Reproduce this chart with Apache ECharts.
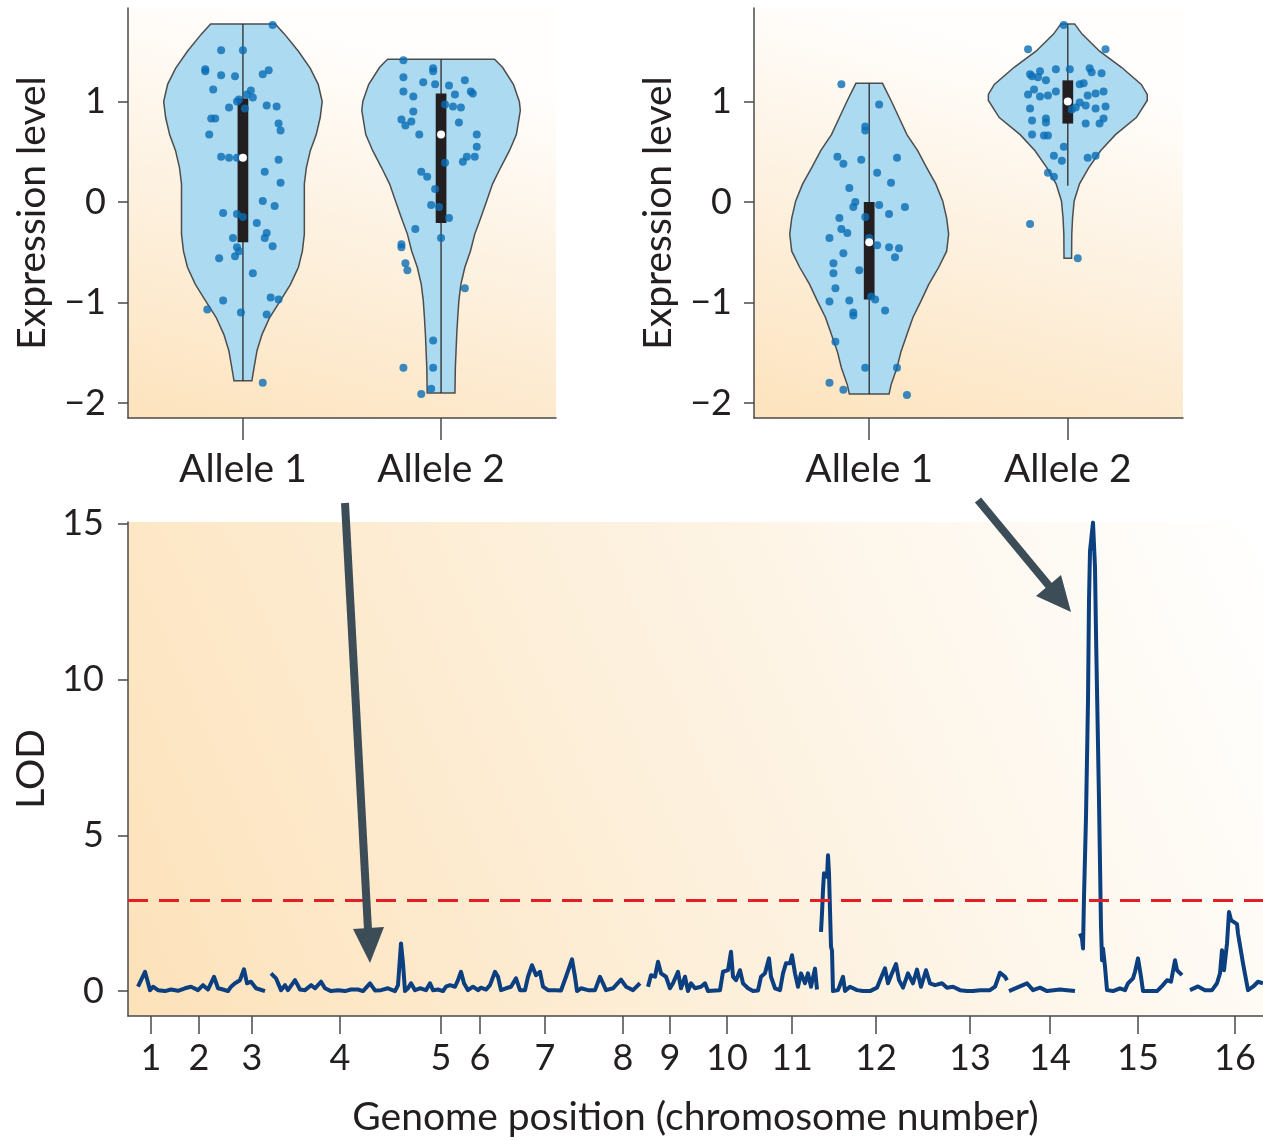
<!DOCTYPE html>
<html>
<head>
<meta charset="utf-8">
<script src="https://cdn.jsdelivr.net/npm/echarts@6/dist/echarts.min.js"></script>
<style>
html, body { margin: 0; padding: 0; background: #fff; }
#main { width: 1263px; height: 1141px; }
</style>
</head>
<body>
<div id="main"></div>
<script>
// ---------------- data ----------------
var alleleNames = ["Allele 1", "Allele 2"];
var exprTicks = [-2, -1, 0, 1];
var lodTicks = [0, 5, 10, 15];
var lodThreshold = 2.93;

// violin outlines: y level and half width (x units)
var leftA1Levels = [1.77, 1.67, 1.50, 1.33, 1.17, 1.00, 0.84, 0.67, 0.51, 0.34, 0.18, 0.01, -0.16, -0.32, -0.49, -0.65, -0.82, -0.98, -1.15, -1.32, -1.48, -1.65, -1.78];
var leftA1Half = [0.163, 0.21, 0.28, 0.34, 0.38, 0.40, 0.39, 0.37, 0.34, 0.32, 0.31, 0.31, 0.31, 0.31, 0.30, 0.28, 0.24, 0.19, 0.135, 0.096, 0.071, 0.056, 0.045];
var leftA2Levels = [1.42, 1.34, 1.17, 1.00, 0.91, 0.67, 0.51, 0.34, 0.18, 0.01, -0.16, -0.32, -0.49, -0.65, -0.82, -0.98, -1.15, -1.32, -1.65, -1.90];
var leftA2Half = [0.27, 0.31, 0.365, 0.395, 0.40, 0.38, 0.345, 0.30, 0.26, 0.23, 0.20, 0.17, 0.148, 0.12, 0.10, 0.09, 0.084, 0.079, 0.072, 0.07];
var rightA1Levels = [1.18, 1.01, 0.84, 0.67, 0.51, 0.34, 0.18, 0.01, -0.16, -0.32, -0.49, -0.65, -0.82, -0.99, -1.15, -1.32, -1.49, -1.65, -1.82, -1.91];
var rightA1Half = [0.067, 0.11, 0.15, 0.19, 0.244, 0.29, 0.335, 0.37, 0.39, 0.40, 0.39, 0.35, 0.30, 0.26, 0.22, 0.19, 0.16, 0.14, 0.11, 0.10];
var rightA2Levels = [1.77, 1.67, 1.50, 1.34, 1.17, 1.07, 1.01, 0.84, 0.67, 0.51, 0.34, 0.18, 0.01, -0.16, -0.32, -0.56];
var rightA2Half = [0.035, 0.072, 0.16, 0.27, 0.37, 0.40, 0.40, 0.345, 0.24, 0.165, 0.105, 0.059, 0.032, 0.024, 0.02, 0.019];

// box: [q1, q3, whisker low, whisker high]
var leftBoxes = [[-0.40, 1.03, -1.78, 1.77], [-0.21, 1.08, -1.90, 1.42]];
var rightBoxes = [[-0.97, 0.00, -1.91, 1.18], [0.78, 1.21, 0.16, 1.77]];
var leftMedians = [[1, 0.44], [2, 0.67]];
var rightMedians = [[1, -0.40], [2, 1.00]];

// jittered expression points
var leftPoints = [
  [1.15, 1.76], [0.89, 1.51], [1.00, 1.51], [0.81, 1.32], [0.81, 1.30], [0.89, 1.26], [0.96, 1.25], [1.10, 1.27],
  [1.13, 1.31], [0.85, 1.12], [1.04, 1.11], [1.02, 1.07], [1.05, 1.04], [0.97, 1.00], [0.98, 1.02], [0.93, 0.94],
  [1.01, 0.93], [1.12, 0.96], [1.17, 0.95], [0.84, 0.83], [0.86, 0.83], [1.18, 0.78], [1.19, 0.71], [0.83, 0.67],
  [0.89, 0.45], [0.93, 0.44], [0.97, 0.44], [1.18, 0.42], [1.11, 0.30], [1.19, 0.19], [1.10, 0.01], [1.16, -0.04],
  [0.90, -0.11], [0.97, -0.12], [1.00, -0.15], [1.07, -0.21], [1.12, -0.31], [1.11, -0.36], [0.95, -0.36], [1.15, -0.44],
  [0.97, -0.45], [0.98, -0.49], [0.96, -0.54], [0.88, -0.56], [1.05, -0.71], [0.90, -0.98], [1.14, -0.95], [1.18, -0.97],
  [0.82, -1.07], [0.99, -1.10], [1.12, -1.12], [1.10, -1.80],
  [1.81, 1.41], [1.96, 1.33], [1.96, 1.30], [1.81, 1.24], [1.91, 1.19], [1.97, 1.17], [2.04, 1.16], [2.12, 1.21],
  [1.81, 1.10], [1.86, 1.05], [2.07, 1.07], [2.15, 1.10], [2.16, 1.08], [2.02, 0.97], [2.06, 0.95], [2.10, 0.94],
  [1.86, 0.90], [1.80, 0.82], [1.85, 0.80], [1.82, 0.76], [2.09, 0.79], [1.89, 0.67], [2.18, 0.67], [2.18, 0.55],
  [2.13, 0.45], [2.17, 0.45], [2.11, 0.40], [2.02, 0.39], [1.90, 0.30], [1.93, 0.25], [1.97, 0.13], [1.95, -0.03],
  [1.99, -0.05], [2.04, -0.16], [1.87, -0.27], [2.00, -0.36], [1.80, -0.42], [1.80, -0.45], [1.82, -0.61], [1.83, -0.68],
  [2.12, -0.86], [1.96, -1.38], [1.81, -1.65], [1.96, -1.65], [1.95, -1.86], [1.90, -1.91]
];
var rightPoints = [
  [0.86, 1.17], [1.05, 0.97], [0.98, 0.75], [0.98, 0.71], [0.84, 0.45], [0.87, 0.38], [0.96, 0.42], [1.14, 0.44],
  [1.04, 0.29], [0.90, 0.14], [1.11, 0.19], [0.93, 0.00], [0.92, -0.05], [1.05, -0.03], [1.18, -0.05], [0.85, -0.16],
  [0.86, -0.27], [0.89, -0.31], [0.98, -0.15], [1.10, -0.12], [0.80, -0.36], [1.00, -0.36], [0.87, -0.51], [1.04, -0.43],
  [1.10, -0.45], [1.15, -0.46], [1.13, -0.55], [0.82, -0.61], [0.82, -0.71], [0.95, -0.68], [0.83, -0.86], [0.80, -0.99],
  [0.90, -0.98], [0.92, -1.10], [0.92, -1.13], [1.01, -0.94], [1.03, -0.97], [1.08, -1.08], [0.83, -1.39], [0.98, -1.65],
  [1.14, -1.65], [0.80, -1.80], [0.87, -1.87], [1.19, -1.92],
  [1.98, 1.76], [1.80, 1.52], [2.19, 1.52], [1.81, 1.27], [1.86, 1.30], [1.94, 1.32], [2.01, 1.32], [2.11, 1.33],
  [2.17, 1.28], [1.82, 1.25], [1.89, 1.21], [1.85, 1.24], [2.06, 1.17], [2.08, 1.18], [2.12, 1.29], [1.80, 1.07],
  [1.83, 1.12], [1.86, 1.05], [1.90, 1.06], [1.94, 1.10], [2.14, 1.08], [2.18, 1.10], [2.10, 1.06], [1.81, 0.93],
  [2.04, 0.94], [2.06, 0.99], [2.09, 0.96], [2.14, 0.93], [2.19, 0.95], [1.82, 0.81], [1.89, 0.83], [1.89, 0.79],
  [2.02, 0.92], [2.09, 0.78], [2.16, 0.78], [2.18, 0.83], [1.82, 0.67], [1.88, 0.66], [1.90, 0.66], [1.98, 0.55],
  [1.93, 0.46], [1.97, 0.41], [2.10, 0.44], [2.14, 0.46], [1.90, 0.29], [1.93, 0.25], [1.81, -0.22], [2.05, -0.56]
];

// LOD scan: genome position (arbitrary units) and LOD score, null = gap between chromosomes
var chromPos = [23, 71, 124, 212, 313, 352, 417, 495, 542, 599, 664, 748, 842, 922, 1010, 1107];
var chromLabels = ["1", "2", "3", "4", "5", "6", "7", "8", "9", "10", "11", "12", "13", "14", "15", "16"];
var lodPos = [
  10, 17, 22, 25, 30, 37, 43, 50, 57, 63, 70, 75, 80, 86, 90, 95, 100, 103, 107, 112, 116, 119, 123, 128, 137,
  140,
  143, 148, 153, 157, 160, 167, 172, 177, 183, 187, 193, 197, 203, 210, 217, 223, 230,
  235, 242, 247, 253, 260, 267, 270, 273, 275, 277, 280, 283, 287, 292, 298, 302, 305, 310, 315, 318, 322, 327,
  330, 333, 336, 340, 345, 350, 353, 358, 362, 367, 370, 373, 378, 383, 388, 392, 397, 400, 404, 408, 412, 415,
  420, 427, 433, 438, 444, 447, 449, 453, 460,
  467, 472, 475, 478, 485, 493, 498, 505, 512,
  516,
  520, 523, 527, 530, 533, 538, 542, 545, 550, 553, 557, 560, 563, 567, 573, 577, 580, 587, 592, 595, 600, 603,
  605, 608, 612, 615, 620, 625, 630, 633, 637, 641, 643, 647, 652, 655, 658, 662, 664, 667, 670, 673, 677, 680,
  683, 687, 689,
  691,
  693, 694, 695, 696, 699, 700, 701, 703, 704, 705, 710, 715, 717, 722, 729, 735, 742, 749, 752, 757, 760, 764,
  768, 771, 775, 780, 785, 789, 793, 798, 802, 807, 814, 819, 825, 832, 839, 845, 852, 862, 867, 872, 877, 879,
  880,
  881, 889, 899, 905, 912, 919, 932, 939, 947,
  950,
  952, 954, 955, 956, 958, 960, 961, 962, 965, 967, 968, 971, 973, 974, 975, 977, 979, 985, 992, 997, 1000, 1005,
  1007, 1010, 1013, 1015, 1022, 1029, 1034, 1039, 1043, 1047, 1049, 1054,
  1058,
  1062, 1070, 1077, 1084, 1089, 1092, 1094, 1096, 1099, 1101, 1103, 1105, 1109, 1110, 1115, 1120, 1125, 1130, 1135
];
var lodVal = [
  0.14, 0.62, 0.03, 0.14, 0.03, 0.00, 0.05, 0.01, 0.09, 0.14, 0.03, 0.19, 0.05, 0.46, 0.09, 0.05, 0.00, 0.14, 0.25, 0.35, 0.70, 0.25, 0.30, 0.09, 0.00,
  null,
  0.57, 0.41, 0.03, 0.19, 0.03, 0.35, 0.05, 0.03, 0.19, 0.09, 0.30, 0.09, 0.00, 0.03, 0.00, 0.05, 0.05,
  0.00, 0.25, 0.02, 0.03, 0.09, 0.00, 0.19, 1.53, 0.89, 0.00, 0.09, 0.25, 0.03, 0.09, 0.03, 0.25, 0.03, 0.05, 0.00, 0.14, 0.19, 0.14,
  0.35, 0.62, 0.25, 0.03, 0.14, 0.03, 0.11, 0.05, 0.19, 0.62, 0.46, 0.03, 0.09, 0.14, 0.41, 0.03, 0.03, 0.46, 0.83, 0.51, 0.62, 0.14,
  0.03, 0.03, 0.02, 0.46, 1.02, 0.46, 0.00, 0.09, 0.03,
  0.03, 0.46, 0.25, 0.03, 0.09, 0.37, 0.14, 0.03, 0.25,
  null,
  0.14, 0.51, 0.46, 0.94, 0.57, 0.46, 0.09, 0.25, 0.62, 0.09, 0.46, 0.00, 0.25, 0.09, 0.14, 0.25, 0.00, 0.02, 0.03, 0.62, 0.67, 1.26,
  0.46, 0.35, 0.67, 0.25, 0.09, 0.00, 0.02, 0.46, 0.57, 1.05, 0.46, 0.09, 0.03, 0.57, 0.89, 0.89, 1.15, 0.57, 0.14, 0.57, 0.25, 0.57,
  0.14, 0.72, 0.05,
  null,
  1.90, 2.50, 3.24, 3.78, 3.67, 4.36, 3.78, 1.42, 1.30, 0.00, 0.03, 0.46, 0.00, 0.14, 0.03, 0.00, 0.00, 0.11, 0.35, 0.73, 0.25, 0.57,
  0.87, 0.35, 0.11, 0.57, 0.25, 0.69, 0.14, 0.67, 0.25, 0.19, 0.25, 0.11, 0.14, 0.03, 0.00, 0.00, 0.03, 0.03, 0.14, 0.59, 0.46, 0.35,
  null,
  0.00, 0.11, 0.25, 0.03, 0.11, 0.00, 0.05, 0.03, 0.00,
  null,
  1.85, 1.69, 1.37, 3.02, 5.59, 9.33, 12.53, 14.13, 15.04, 13.60, 11.47, 6.12, 2.06, 0.99, 1.37, 0.78, 0.03, 0.00, 0.09, 0.03, 0.25, 0.41,
  0.62, 1.05, 0.46, 0.00, 0.00, 0.00, 0.16, 0.35, 0.30, 0.99, 0.67, 0.51,
  null,
  0.03, 0.15, 0.03, 0.03, 0.25, 0.57, 1.31, 0.67, 1.53, 2.54, 2.28, 2.22, 2.15, 1.85, 0.89, 0.03, 0.14, 0.30, 0.25
];

// ---------------- styles ----------------
var FONT = "Lato";
var TXT = "#231f20";
var AXIS = "#4a4a4a";

function minusFmt(v) {
  return v < 0 ? "\u2212" + Math.abs(v) : String(v);
}

function panelBg() {
  return {
    type: "linear", x: 0, y: 1, x2: 0.25, y2: 0,
    colorStops: [
      { offset: 0, color: "#fde3bd" },
      { offset: 0.5, color: "#fdf0dd" },
      { offset: 1, color: "#fffefd" }
    ]
  };
}

function exprYAxis(gridIndex) {
  return {
    type: "value", gridIndex: gridIndex, min: -2.15, max: 1.93,
    name: "Expression level", nameLocation: "middle", nameGap: 76,
    nameTextStyle: { fontFamily: FONT, fontSize: 39, color: TXT },
    axisLine: { show: true, lineStyle: { color: AXIS, width: 1.5 } },
    axisTick: { show: true, length: 10, customValues: exprTicks, lineStyle: { color: AXIS, width: 1.5 } },
    axisLabel: { customValues: exprTicks, formatter: minusFmt, fontFamily: FONT, fontSize: 36, color: TXT, margin: 22 },
    splitLine: { show: false }
  };
}

function alleleXAxis(gridIndex) {
  return {
    type: "value", gridIndex: gridIndex, min: 0.42, max: 2.58,
    axisLine: { show: true, onZero: false, lineStyle: { color: AXIS, width: 1.5 } },
    axisTick: { show: true, length: 22, customValues: [1, 2], lineStyle: { color: AXIS, width: 1.5 } },
    axisLabel: {
      customValues: [1, 2], formatter: function (v) { return alleleNames[v - 1]; },
      fontFamily: FONT, fontSize: 39, color: TXT, margin: 32
    },
    splitLine: { show: false }
  };
}

function violinRender(shapes) {
  return function (params, api) {
    var s = shapes[params.dataIndex];
    var c = api.value(0);
    var pts = [];
    for (var i = 0; i < s.levels.length; i++) pts.push(api.coord([c + s.half[i], s.levels[i]]));
    for (var j = s.levels.length - 1; j >= 0; j--) pts.push(api.coord([c - s.half[j], s.levels[j]]));
    var wTop = api.coord([c, s.box[3]]);
    var wBot = api.coord([c, s.box[2]]);
    var bTL = api.coord([c - 0.027, s.box[1]]);
    var bBR = api.coord([c + 0.027, s.box[0]]);
    return {
      type: "group",
      children: [
        { type: "polygon", shape: { points: pts }, style: { fill: "#acdaf0", stroke: "#4d4d4d", lineWidth: 1.5 } },
        { type: "line", shape: { x1: wTop[0], y1: wTop[1], x2: wBot[0], y2: wBot[1] }, style: { stroke: "#2b2b2b", lineWidth: 1.3 } },
        { type: "rect", shape: { x: bTL[0], y: bTL[1], width: bBR[0] - bTL[0], height: bBR[1] - bTL[1] }, style: { fill: "#231f20" } }
      ]
    };
  };
}

var leftShapes = [
  { levels: leftA1Levels, half: leftA1Half, box: leftBoxes[0] },
  { levels: leftA2Levels, half: leftA2Half, box: leftBoxes[1] }
];
var rightShapes = [
  { levels: rightA1Levels, half: rightA1Half, box: rightBoxes[0] },
  { levels: rightA2Levels, half: rightA2Half, box: rightBoxes[1] }
];

var lodData = lodPos.map(function (p, i) {
  return [p, lodVal[i] === null ? "-" : lodVal[i]];
});

var option = {
  animation: false,
  backgroundColor: "#ffffff",
  grid: [
    { left: 128, top: 8, width: 428, height: 410, show: true, borderWidth: 0, backgroundColor: panelBg() },
    { left: 754, top: 8, width: 429, height: 410, show: true, borderWidth: 0, backgroundColor: panelBg() },
    {
      left: 128, top: 522, width: 1135, height: 494, show: true, borderWidth: 0,
      backgroundColor: {
        type: "linear", x: 0, y: 1, x2: 1, y2: 0,
        colorStops: [
          { offset: 0, color: "#fde2ba" },
          { offset: 0.5, color: "#fdf1de" },
          { offset: 1, color: "#ffffff" }
        ]
      }
    }
  ],
  xAxis: [
    alleleXAxis(0),
    alleleXAxis(1),
    {
      type: "value", gridIndex: 2, min: 0, max: 1135,
      name: "Genome position (chromosome number)", nameLocation: "middle", nameGap: 82,
      nameTextStyle: { fontFamily: FONT, fontSize: 39, color: TXT },
      axisLine: { show: true, onZero: false, lineStyle: { color: AXIS, width: 1.5 } },
      axisTick: { show: true, length: 18, customValues: chromPos, lineStyle: { color: AXIS, width: 1.5 } },
      axisLabel: {
        customValues: chromPos,
        formatter: function (v) { return chromLabels[chromPos.indexOf(v)]; },
        fontFamily: FONT, fontSize: 36, color: TXT, margin: 24
      },
      splitLine: { show: false }
    }
  ],
  yAxis: [
    exprYAxis(0),
    exprYAxis(1),
    {
      type: "value", gridIndex: 2, min: -0.8, max: 15.06,
      name: "LOD", nameLocation: "middle", nameGap: 76,
      nameTextStyle: { fontFamily: FONT, fontSize: 39, color: TXT },
      axisLine: { show: true, lineStyle: { color: AXIS, width: 1.5 } },
      axisTick: { show: true, length: 10, customValues: lodTicks, lineStyle: { color: AXIS, width: 1.5 } },
      axisLabel: { customValues: lodTicks, fontFamily: FONT, fontSize: 36, color: TXT, margin: 24 },
      splitLine: { show: false }
    }
  ],
  series: [
    { type: "custom", xAxisIndex: 0, yAxisIndex: 0, data: [[1], [2]], renderItem: violinRender(leftShapes), z: 2, silent: true },
    { type: "custom", xAxisIndex: 1, yAxisIndex: 1, data: [[1], [2]], renderItem: violinRender(rightShapes), z: 2, silent: true },
    { type: "scatter", xAxisIndex: 0, yAxisIndex: 0, data: leftPoints, symbolSize: 8, itemStyle: { color: "#0a6db5" }, z: 3 },
    { type: "scatter", xAxisIndex: 1, yAxisIndex: 1, data: rightPoints, symbolSize: 8, itemStyle: { color: "#0a6db5" }, z: 3 },
    { type: "scatter", xAxisIndex: 0, yAxisIndex: 0, data: leftMedians, symbolSize: 8, itemStyle: { color: "#ffffff", opacity: 1 }, z: 4 },
    { type: "scatter", xAxisIndex: 1, yAxisIndex: 1, data: rightMedians, symbolSize: 8, itemStyle: { color: "#ffffff", opacity: 1 }, z: 4 },
    {
      type: "line", xAxisIndex: 2, yAxisIndex: 2, data: lodData, showSymbol: false,
      lineStyle: { color: "#0b3f7f", width: 4, join: "round" }, z: 3,
      markLine: {
        silent: true, symbol: ["none", "none"], label: { show: false },
        lineStyle: { color: "#e31e24", width: 3, type: [20, 11] },
        data: [{ yAxis: lodThreshold }]
      }
    }
  ],
  graphic: [
    { type: "line", shape: { x1: 345, y1: 503, x2: 368, y2: 930 }, style: { stroke: "#3c4d57", lineWidth: 8 }, z: 10 },
    { type: "polygon", shape: { points: [[353, 929], [384, 927], [370, 963]] }, style: { fill: "#3c4d57" }, z: 10 },
    { type: "line", shape: { x1: 978, y1: 500, x2: 1050, y2: 587 }, style: { stroke: "#3c4d57", lineWidth: 8 }, z: 10 },
    { type: "polygon", shape: { points: [[1036, 596], [1061, 575], [1071, 612]] }, style: { fill: "#3c4d57" }, z: 10 }
  ]
};

var myChart = echarts.init(document.getElementById("main"));
myChart.setOption(option);
</script>
</body>
</html>
